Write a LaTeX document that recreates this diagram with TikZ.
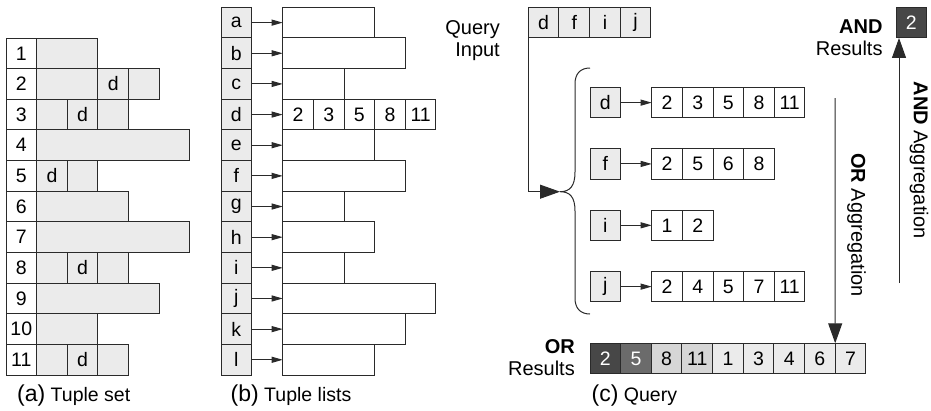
\documentclass[tikz,border=0pt]{standalone}
\usepackage{fontspec}
\setmainfont{Liberation Sans}
\usetikzlibrary{arrows.meta}
\definecolor{cg}{HTML}{EBEBEB}
\definecolor{dk}{HTML}{474747}
\definecolor{md}{HTML}{6B6B6B}
\definecolor{lt}{HTML}{D6D6D6}
\definecolor{ln}{HTML}{2A2A2A}
\newcommand\aseg[5]{\node[gbox,minimum width=#4*30.65pt] (#1) at ({6+#2*30.65},{38+(#3-1)*30.65}) {#5};}
\newcommand\anum[2]{\node[wbox] (#1) at (6,{38+(#2-1)*30.65}) {#2};}
\begin{document}
\begin{tikzpicture}[x=1pt,y=-1pt,
  box/.style={draw=ln, line width=1pt, minimum height=30.65pt, minimum width=30.65pt,
    inner sep=0pt, outer sep=0pt, anchor=north west, font=\fontsize{19.5}{19.5}\selectfont},
  gbox/.style={box, fill=cg},
  wbox/.style={box, fill=white},
  lbl/.style={inner sep=0pt, font=\fontsize{20}{22}\selectfont},
  captxt/.style={inner sep=0pt, anchor=base west, font=\fontsize{19.5}{22}\selectfont},
  sarr/.style={draw=ln, line width=1pt, -{Triangle[length=11pt,width=6pt]}},
  barr/.style={draw=ln, line width=1pt, -{Triangle[length=20pt,width=14pt]}},
  bracestyle/.style={draw=ln, line width=1pt}
]
\useasboundingbox (0,0) rectangle (931,410);

% ---------- (a) Tuple set ----------
\anum{n1}{1} \aseg{s1a}{1}{1}{2}{}
\anum{n2}{2} \aseg{s2a}{1}{2}{2}{} \aseg{s2b}{3}{2}{1}{d} \aseg{s2c}{4}{2}{1}{}
\anum{n3}{3} \aseg{s3a}{1}{3}{1}{} \aseg{s3b}{2}{3}{1}{d} \aseg{s3c}{3}{3}{1}{}
\anum{n4}{4} \aseg{s4a}{1}{4}{5}{}
\anum{n5}{5} \aseg{s5a}{1}{5}{1}{d} \aseg{s5b}{2}{5}{1}{}
\anum{n6}{6} \aseg{s6a}{1}{6}{3}{}
\anum{n7}{7} \aseg{s7a}{1}{7}{5}{}
\anum{n8}{8} \aseg{s8a}{1}{8}{1}{} \aseg{s8b}{2}{8}{1}{d} \aseg{s8c}{3}{8}{1}{}
\anum{n9}{9} \aseg{s9a}{1}{9}{4}{}
\anum{n10}{10} \aseg{s10a}{1}{10}{2}{}
\anum{n11}{11} \aseg{s11a}{1}{11}{1}{} \aseg{s11b}{2}{11}{1}{d} \aseg{s11c}{3}{11}{1}{}
\node[captxt] (capa) at (17,401) {{\fontsize{23}{23}\selectfont (a)} Tuple set};

% ---------- (b) Tuple lists ----------
\foreach \k/\i/\n in {a/0/3,b/1/4,c/2/2,e/4/3,f/5/4,g/6/2,h/7/3,i/8/2,j/9/5,k/10/4,l/11/3} {
  \node[gbox] (k\k) at (221,{7.3+\i*30.65}) {\k};
  \node[wbox, minimum width=\n*30.65pt] (l\k) at (282.7,{7.3+\i*30.65}) {};
  \draw[sarr] (k\k) -- (l\k);
}
\node[gbox] (kd) at (221,{7.3+3*30.65}) {d};
\foreach \v [count=\c from 0] in {2,3,5,8,11}
  \node[wbox] (ld\c) at ({282.7+\c*30.65},{7.3+3*30.65}) {\v};
\draw[sarr] (kd) -- (ld0);
\node[captxt] (capb) at (230.5,401) {{\fontsize{23}{23}\selectfont (b)} Tuple lists};

% ---------- (c) Query ----------
\node[lbl, anchor=east, align=right] (qin) at (500,41) {Query\\Input};
\foreach \v [count=\c from 0] in {d,f,i,j}
  \node[gbox] (q\c) at ({528.3+\c*30.65},7.3) {\v};
\coordinate (btip) at (560,191.7);
\draw[barr] (q0.south west) |- (btip);
\draw[bracestyle] (590,68) .. controls (580,68) and (575,74) .. (575,84) -- (575,172)
  .. controls (575,186) and (570,191.7) .. (btip)
  .. controls (570,191.7) and (575,197) .. (575,211) -- (575,298)
  .. controls (575,308) and (580,314) .. (590,314);
\foreach \k/\y/\vals in {d/87.3/{2,3,5,8,11}, f/148.6/{2,5,6,8}, i/210/{1,2}, j/271.3/{2,4,5,7,11}} {
  \node[gbox] (c\k) at (590,\y) {\k};
  \foreach \v [count=\c from 0] in \vals {
    \node[wbox] (c\k\c) at ({651.7+\c*30.65},\y) {\v};
  }
  \draw[sarr] (c\k) -- (c\k0);
}
\foreach \v/\f/\t [count=\c from 0] in {2/dk/white,5/md/white,8/lt/black,11/lt/black,1/cg/black,3/cg/black,4/cg/black,6/cg/black,7/cg/black}
  \node[box, fill=\f, text=\t] (r\c) at ({590+\c*30.65},343.3) {\v};
\node[lbl, anchor=east, align=right] (orl) at (575,358) {\textbf{OR}\\Results};
\coordinate (ortop) at (835.2,98);
\draw[barr] (ortop) -- (r7.north east);
\node[lbl, rotate=-90] (oragg) at (856.5,225) {\textbf{OR} Aggregation};

\node[box, fill=dk, text=white] (andbox) at (896,7.3) {2};
\node[lbl, anchor=east, align=right] (andl) at (882.7,37.5) {\textbf{AND}\\Results};
\coordinate (andfoot) at (899,283);
\draw[barr] (andfoot) -- (andfoot |- andbox.south);
\node[lbl, rotate=-90] (andagg) at (919,160) {\textbf{AND} Aggregation};
\node[captxt] (capc) at (591.5,401) {{\fontsize{23}{23}\selectfont (c)} Query};
\end{tikzpicture}
\end{document}
